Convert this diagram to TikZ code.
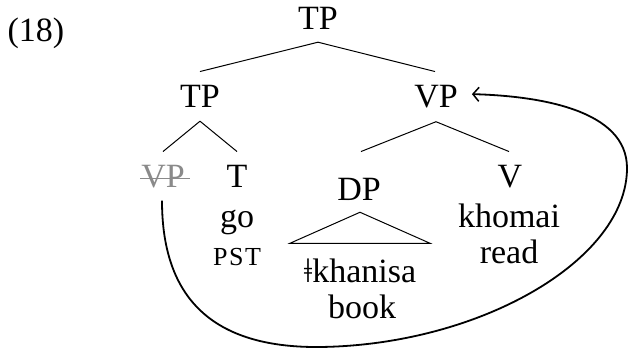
\documentclass[tikz,border=0pt]{standalone}
\usepackage{fontspec}
\setmainfont{Liberation Serif}
\usetikzlibrary{calc,arrows.meta}
\definecolor{tracegray}{HTML}{8A8A8A}
\tikzset{
  lbl/.style={anchor=base,inner sep=0pt,font=\fontsize{34}{40}\selectfont},
  scfont/.style={anchor=base,inner sep=0pt,font=\fontsize{26}{31}\selectfont\addfontfeature{LetterSpace=6}},
  branch/.style={line width=1pt},
  movearc/.style={line width=1.8pt,-{Straight Barb[length=6pt,width=14pt,line width=1.5pt]}}
}
\begin{document}
\begin{tikzpicture}[x=1pt,y=-1pt]
\useasboundingbox (0,0) rectangle (629,350);
% labels
\node[lbl] (ex) at (36,42) {(18)};
\node[lbl] (tp0) at (318,30) {TP};
\node[lbl] (tp1) at (200,108) {TP};
\node[lbl] (vp1) at (436,108) {VP};
\node[lbl,text=tracegray] (vpg) at (163,187) {VP};
\node[lbl] (t) at (237,187) {T};
\node[lbl] (go) at (237,227) {go};
\node[scfont] (pst) at (237,265) {PST};
\node[lbl] (dp) at (359,200) {DP};
\node[lbl] (kh) at (360,282) {ǂkhanisa};
\node[lbl] (book) at (362,318) {book};
\node[lbl] (v) at (510,187) {V};
\node[lbl] (khomai) at (509,227) {khomai};
\node[lbl] (read) at (509,263) {read};
% strike-through on trace
\draw[tracegray,line width=1pt] ($(vpg.west)+(-1,2)$) -- ($(vpg.east)+(5,2)$);
% branches
\draw[branch] ($(tp0.south)+(0,12)$) -- ($(tp1.north)+(0,-14)$);
\draw[branch] ($(tp0.south)+(0,12)$) -- ($(vp1.north)+(-1,-14)$);
\draw[branch] ($(tp1.south)+(0,13)$) -- ($(vpg.north)+(0,-13)$);
\draw[branch] ($(tp1.south)+(0,13)$) -- ($(t.north)+(0,-13)$);
\draw[branch] ($(vp1.south)+(0,13)$) -- ($(dp.north)+(2,-26)$);
\draw[branch] ($(vp1.south)+(0,13)$) -- ($(v.north)+(-1,-13)$);
% triangle
\draw[branch,line join=miter] ($(dp.south)+(1,12)$) -- ($(dp.south)+(-69,43)$) -- ($(dp.south)+(71,43)$) -- cycle;
% movement arc
\coordinate (arcstart) at ($(vpg.south)+(-1,13)$);
\coordinate (arcend) at ($(vp1.east)+(14,-3)$);
\draw[movearc] (arcstart) .. controls (162,305) and (220,348) .. (320,347)
  .. controls (480,345) and (627,260) .. (627,168)
  .. controls (627,110) and (540,96) .. (arcend);
\end{tikzpicture}
\end{document}
